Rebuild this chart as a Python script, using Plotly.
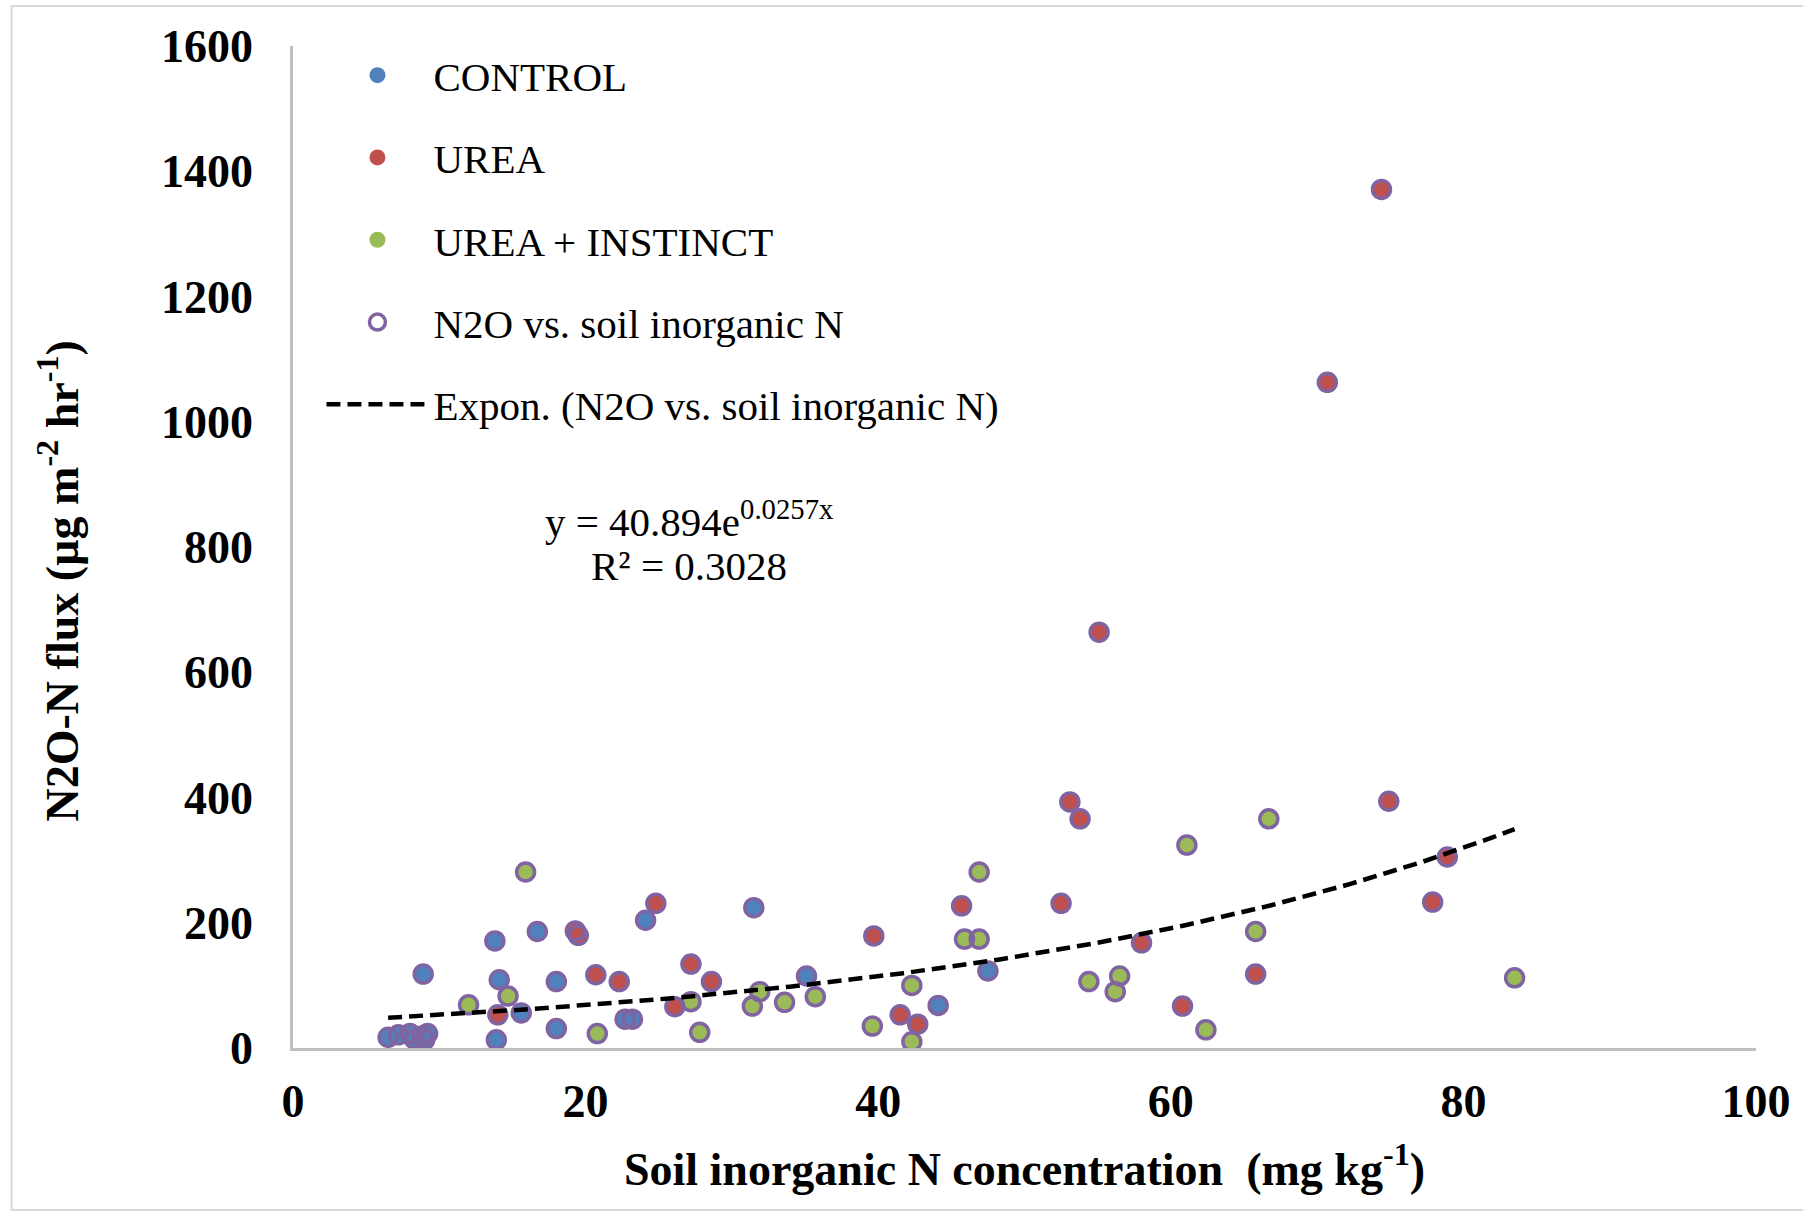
import numpy as np
import plotly.graph_objects as go

# ---- data ----
control_x = [6.5, 7.2, 8.0, 8.3, 8.8, 9.2, 9.0, 8.9, 13.8, 14.1, 13.9, 15.6, 16.7, 18.0, 18.0,
             22.7, 23.2, 24.1, 31.5, 35.1, 44.1, 47.5]
control_y = [17, 21, 23, 14, 19, 23, 13, 118, 171, 109, 13, 56, 186, 106, 31,
             46, 46, 204, 224, 115, 68, 123]

urea_x = [14.0, 19.3, 19.5, 20.7, 22.3, 24.8, 26.1, 27.2, 28.6, 39.7, 41.5, 42.7, 45.7, 52.5,
          53.1, 53.8, 55.1, 58.0, 60.8, 65.8, 70.7, 74.4, 74.9, 77.9, 78.9]
urea_y = [53, 187, 180, 117, 106, 231, 66, 134, 106, 179, 53, 38, 227, 231,
          393, 366, 664, 168, 67, 118, 1063, 1371, 394, 233, 305]

ui_x = [12.0, 14.7, 15.9, 20.8, 27.2, 27.8, 31.4, 31.9, 33.6, 35.7, 39.6, 42.3, 42.3, 45.9,
        46.9, 46.9, 54.4, 56.2, 56.5, 61.1, 62.4, 65.8, 66.7, 83.5]
ui_y = [69, 83, 281, 23, 74, 25, 67, 90, 73, 82, 35, 100, 10, 174,
        174, 281, 106, 90, 115, 324, 29, 186, 366, 112]

# exponential trend: y = a * exp(b x)
trend_a = 40.894
trend_b = 0.0257
trend_r2 = 0.3028

x_ticks = [0, 20, 40, 60, 80, 100]
y_ticks = [0, 200, 400, 600, 800, 1000, 1200, 1400, 1600]

# ---- styling ----
C_BLUE = "#4F81BD"
C_RED = "#C0504D"
C_GREEN = "#9BBB59"
C_PURPLE = "#8064A2"
SERIF = "Liberation Serif, Times New Roman, serif"

all_x = control_x + urea_x + ui_x
all_y = control_y + urea_y + ui_y
tx = np.linspace(min(all_x), max(all_x), 200)
ty = trend_a * np.exp(trend_b * tx)

fig = go.Figure()
for name, xs, ys, col, grp in [("CONTROL", control_x, control_y, C_BLUE, "g1"),
                               ("UREA", urea_x, urea_y, C_RED, "g2"),
                               ("UREA + INSTINCT", ui_x, ui_y, C_GREEN, "g3")]:
    fig.add_trace(go.Scatter(x=xs, y=ys, mode="markers", name=name, legendgroup=grp,
                             marker=dict(color=col, size=19, line=dict(width=0))))

fig.add_trace(go.Scatter(x=all_x, y=all_y, mode="markers", name="N2O vs. soil inorganic N",
                         legendgroup="g4",
                         marker=dict(symbol="circle-open", color=C_PURPLE, size=18,
                                     line=dict(width=3.5, color=C_PURPLE))))

fig.add_trace(go.Scatter(x=tx, y=ty, mode="lines", name="Expon. (N2O vs. soil inorganic N)",
                         legendgroup="g5",
                         line=dict(color="black", width=4.5, dash="14px,7px")))

W, H = 1803, 1218
L, R, T, B = 293, 44, 46, 170
pw, ph = W - L - R, H - T - B

fig.add_annotation(x=27.1, y=845, xref="x", yref="y",
                   text=f"y = {trend_a}e<sup>{trend_b}x</sup>",
                   showarrow=False, align="center",
                   font=dict(family=SERIF, size=41, color="black"))
fig.add_annotation(x=27.1, y=770, xref="x", yref="y",
                   text=f"R² = {trend_r2}",
                   showarrow=False, align="center",
                   font=dict(family=SERIF, size=41, color="black"))

# y-axis title (placed as in the reference, slightly below the axis centre)
fig.add_annotation(x=(58 - L) / pw, y=1 - (581 - T) / ph, xref="paper", yref="paper",
                   text="N2O-N flux (µg m<sup>-2</sup> hr<sup>-1</sup>)", textangle=-90,
                   showarrow=False, xanchor="center", yanchor="middle",
                   font=dict(family=SERIF, size=46, color="black", weight="bold"))

fig.update_layout(
    width=W, height=H,
    margin=dict(l=L, r=R, t=T, b=B),
    plot_bgcolor="white", paper_bgcolor="white",
    font=dict(family=SERIF, color="black"),
    showlegend=True,
    legend=dict(x=(321.5 - L) / pw, y=1 - (42 - T) / ph, xanchor="left", yanchor="top",
                font=dict(family=SERIF, size=41, color="black"),
                bgcolor="rgba(0,0,0,0)", tracegroupgap=26, itemwidth=102),
    xaxis=dict(range=[0, 100], tickvals=x_ticks, ticktext=[str(v) for v in x_ticks],
               showgrid=False, zeroline=False, showline=True, linecolor="#BFBFBF", linewidth=2.5,
               ticks="", ticklabelstandoff=11,
               tickfont=dict(family=SERIF, size=46, color="black", weight="bold"),
               title=dict(text="Soil inorganic N concentration  (mg kg<sup>-1</sup>)",
                          font=dict(family=SERIF, size=46, color="black", weight="bold"),
                          standoff=27)),
    yaxis=dict(range=[0, 1600], tickvals=y_ticks, ticktext=[str(v) for v in y_ticks],
               showgrid=False, zeroline=False, showline=True, linecolor="#BFBFBF", linewidth=2.5,
               ticks="", ticklabelstandoff=28,
               tickfont=dict(family=SERIF, size=46, color="black", weight="bold")),
)

# outer chart border
fig.add_shape(type="rect", xref="paper", yref="paper",
              x0=(11 - L) / pw, x1=(1803 + 5 - L) / pw,
              y0=1 - (1210 - T) / ph, y1=1 - (6 - T) / ph,
              line=dict(color="#D9D9D9", width=2), fillcolor="rgba(0,0,0,0)", layer="below")

fig.write_html("out.html")
